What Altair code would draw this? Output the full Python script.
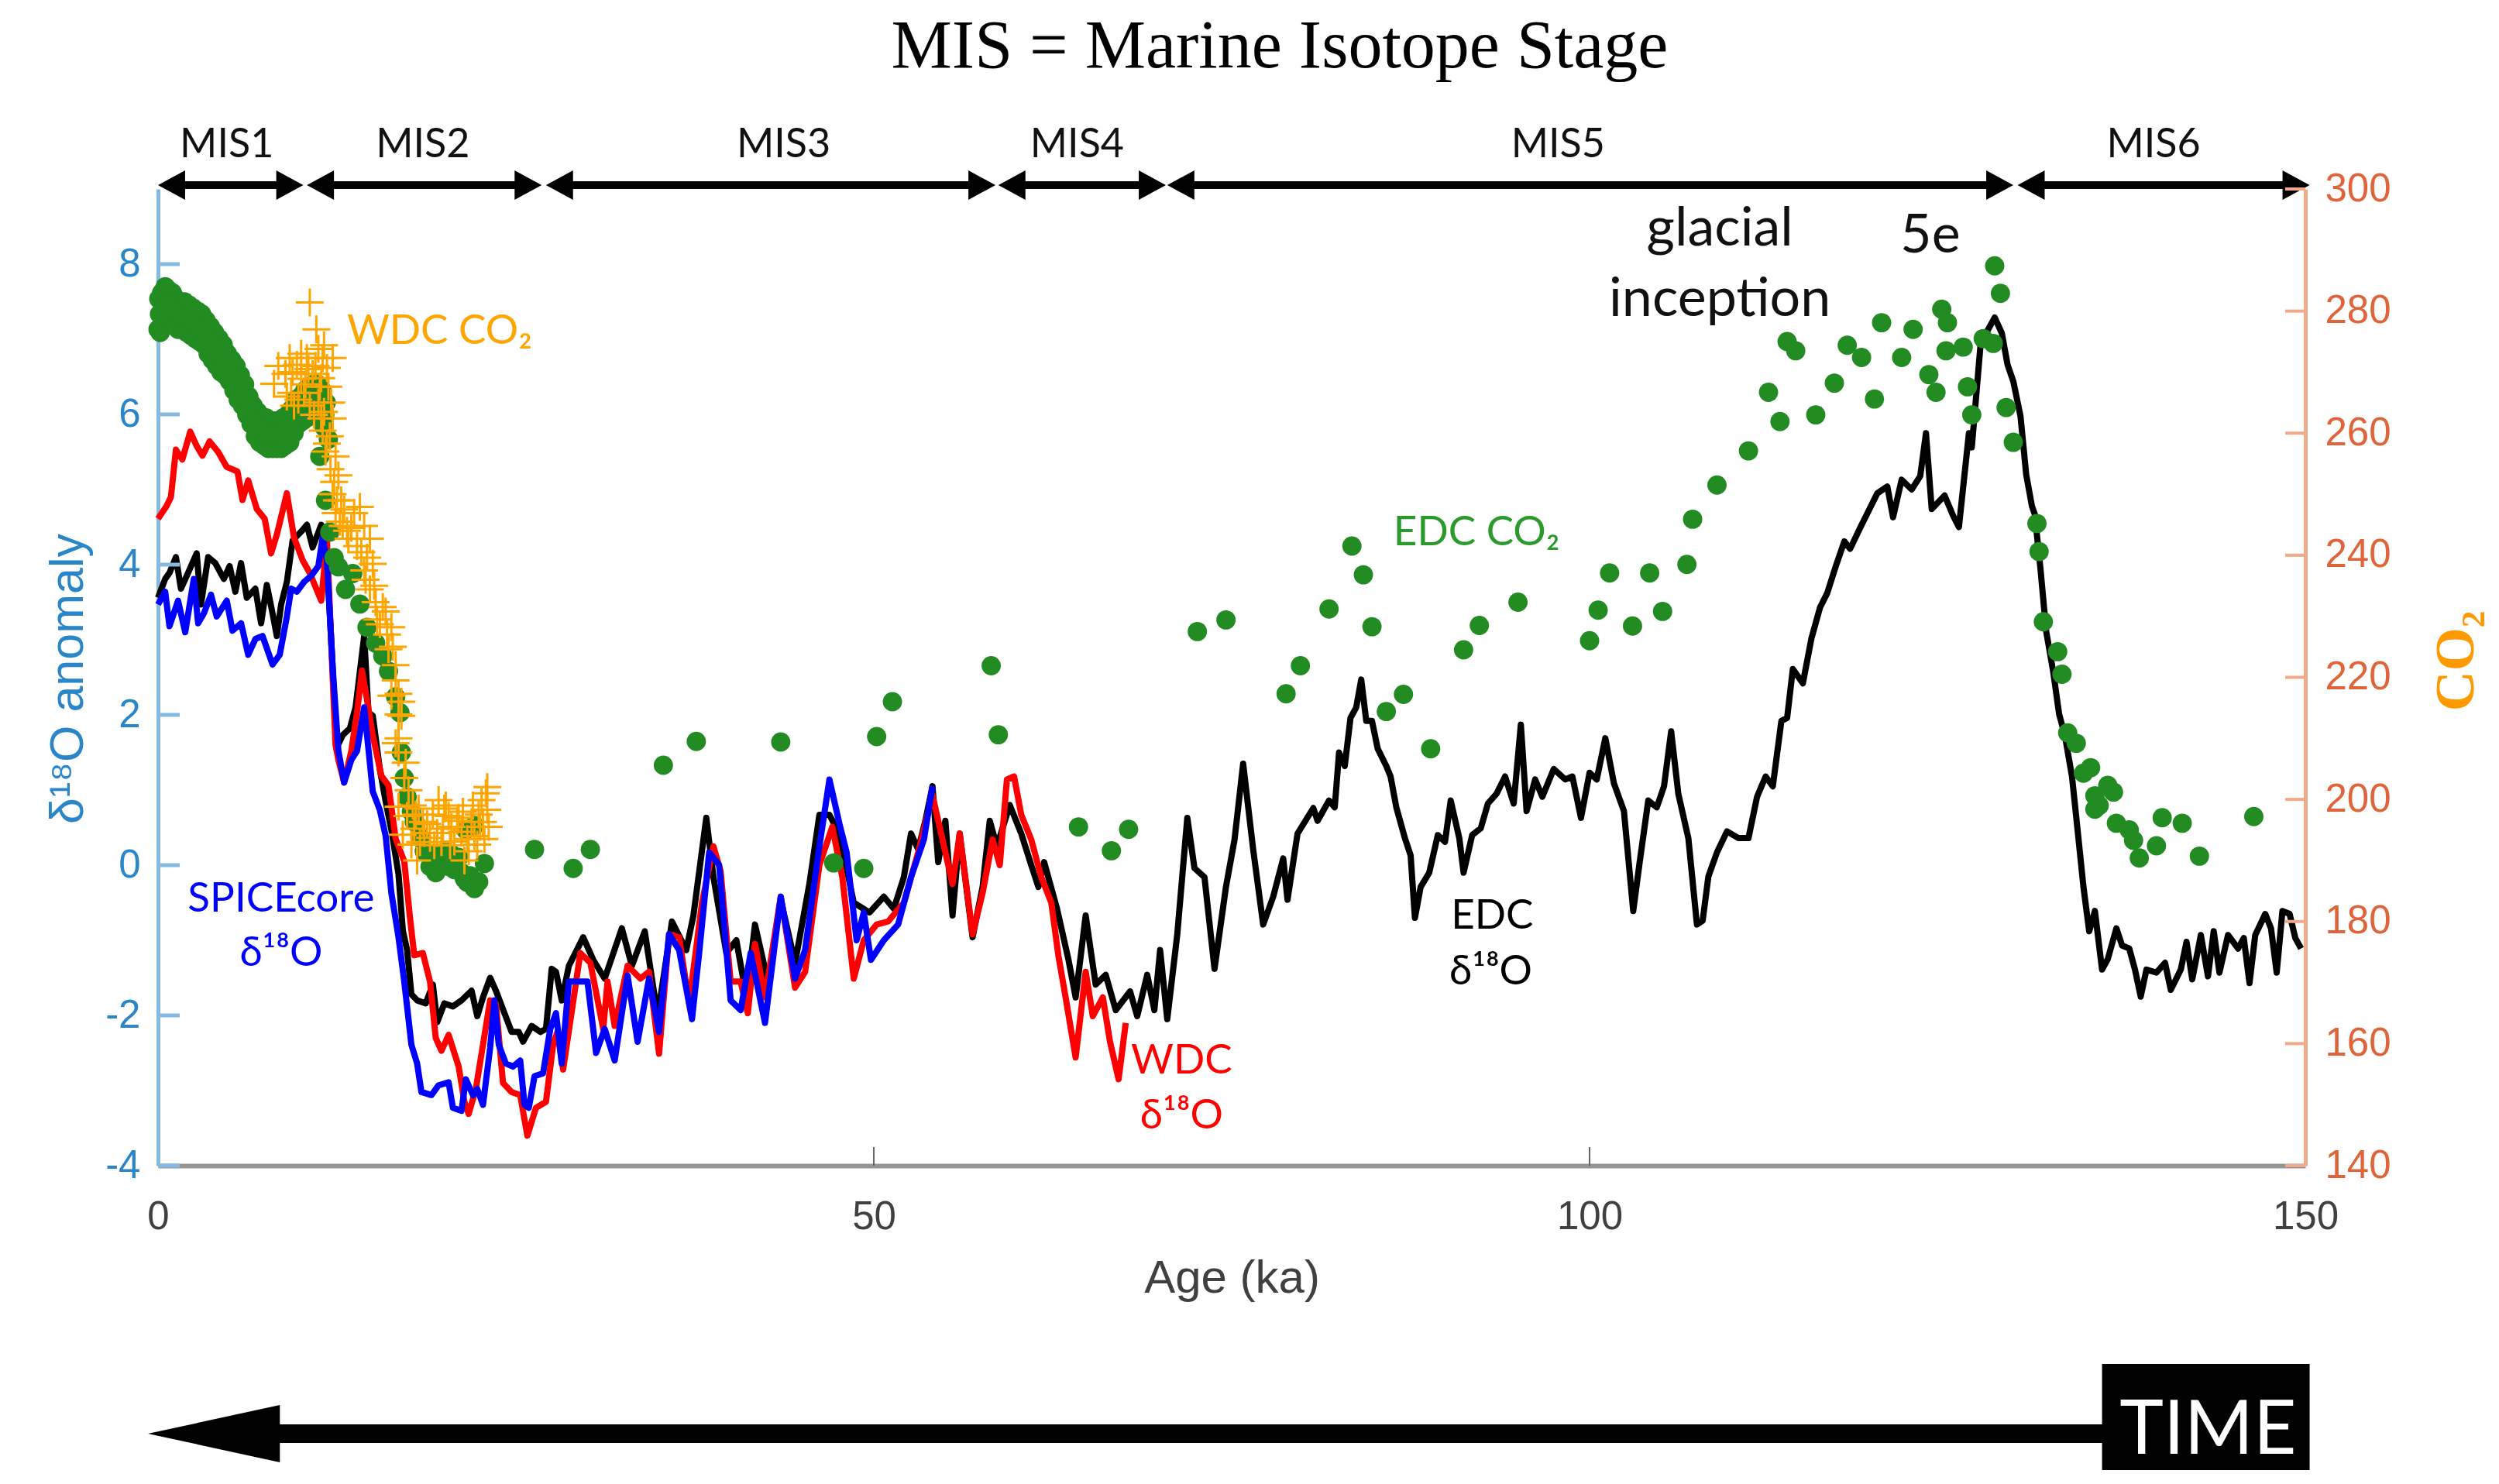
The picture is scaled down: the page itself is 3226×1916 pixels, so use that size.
import altair as alt
import pandas as pd

# ---------------- data ----------------
EDC_ka = [0.0, 0.5, 0.8, 1.25, 1.6, 2.1, 2.7, 3.0, 3.5, 4.0, 4.6, 5.0, 5.4, 5.8, 6.2, 6.8, 7.2, 7.6, 8.0, 8.3,
          8.6, 9.0, 9.4, 10.0, 10.4, 10.8, 11.4, 11.7, 12.2, 12.4,
          12.6, 12.9, 13.4, 13.8, 14.4, 14.7, 15.0, 15.5, 15.9, 16.3, 16.8, 17.1, 17.4, 17.7, 18.1, 18.7, 19.2,
          19.5, 20.0, 20.6, 21.2, 21.9, 22.3, 22.7, 23.2, 23.6, 24.2, 24.7, 25.2, 25.5, 26.1, 26.7, 27.1, 27.5,
          27.8, 28.2,
          28.7, 29.7, 30.4, 31.2, 32.4, 33.1, 34.0, 34.9, 35.9, 36.9, 37.4, 38.3, 38.8, 39.7, 40.4, 41.1, 41.7,
          42.6, 43.5, 44.5, 45.5, 46.2, 46.9, 47.6, 48.6, 49.7, 50.7, 51.4, 52.1, 52.6, 53.1, 53.6, 54.1, 54.5,
          55.0, 55.5, 56.0, 56.9, 57.6, 58.1, 58.6, 59.5, 60.3, 61.0, 61.5, 61.9, 62.8, 63.6, 64.1, 64.8, 65.5,
          66.2, 66.9, 67.9, 68.4, 69.1, 69.6, 70.0, 70.5, 71.2, 71.9, 72.4, 73.1, 73.8, 74.6, 75.2, 75.8, 76.5,
          77.2, 77.9, 78.6, 78.9, 79.6, 80.7,
          81.0, 81.8, 82.2, 82.5, 82.9, 83.3, 83.7, 84.05, 84.4, 84.8, 85.2, 85.8, 86.1, 86.5, 87.1, 87.5, 87.8,
          88.2, 88.8, 89.4, 89.9, 90.3, 90.9, 91.2, 91.8, 92.4, 92.9, 93.5, 94.1, 94.7, 95.2, 95.6, 96.2, 96.7,
          97.5, 98.3, 98.8, 99.4, 100.0, 100.5, 101.1, 101.7, 102.4,
          103.05, 103.5, 104.1, 104.7, 105.2, 105.7, 106.2, 106.9, 107.5, 107.9, 108.3, 108.9, 109.6, 110.4,
          111.1, 111.7, 112.3, 112.8, 113.4, 113.8, 114.2, 114.9, 115.5, 116.1, 116.6, 117.2, 117.8, 118.2,
          118.9, 119.5, 120.1, 120.8, 121.2, 121.8, 122.5, 123.1,
          123.5, 123.9, 124.8, 125.4, 125.8, 126.5, 126.7, 127.3, 127.7, 128.3, 128.8, 129.2, 129.6, 130.1,
          130.5, 130.9,
          131.1, 131.5, 131.9, 132.4, 132.8, 133.2, 133.7, 134.1, 134.5, 134.9, 135.3, 135.8, 136.2, 136.8,
          137.2, 137.7, 138.1, 138.5, 138.9, 139.6, 140.2, 140.6, 141.3, 141.7, 142.1, 142.7, 143.2, 143.6,
          144.0, 144.6, 145.3, 145.7, 146.1, 146.5, 147.2, 147.6, 148.0, 148.4, 148.9, 149.3, 149.7]
EDC_d18O = [3.56, 3.81, 3.89, 4.1, 3.68, 3.89, 4.15, 3.47, 4.1, 4.02, 3.81, 3.98, 3.64, 4.02, 3.56, 3.68, 3.22,
            3.73, 3.35, 3.05, 3.47, 3.77, 4.32, 4.44, 4.53, 4.23, 4.53, 4.4, 2.63, 1.8,
            1.61, 1.73, 1.82, 2.1, 3.05, 2.03, 1.99, 1.27, 0.85, 0.47, -0.12, -0.87, -1.13, -1.72, -1.8, -1.84,
            -1.59, -2.09, -1.84, -1.88, -1.8, -1.67, -2.01, -1.76, -1.5, -1.67, -1.97, -2.22, -2.22, -2.35,
            -2.14, -2.22, -2.18, -1.38, -1.42, -1.8,
            -1.34, -0.96, -1.26, -1.51, -0.84, -1.34, -0.88, -2.01, -0.75, -1.13, -0.67, 0.63, -0.16, -1.17,
            -1.0, -1.76, -0.79, -1.55, -0.46, -1.3, -0.25, 0.67, 0.67, 0.42, -0.5, -0.63, -0.42, -0.58, -0.16,
            0.42, 0.21, 0.59, 1.05, 0.04, 0.59, -0.67, 0.42, -0.96, -0.29, 0.59, 0.25, 0.8, 0.42, 0.0, -0.29,
            0.04, -0.58, -1.26, -1.76, -0.67, -1.59, -1.46, -1.93, -1.68, -2.01, -1.46, -1.93, -1.13, -2.05,
            -0.92, 0.63, -0.04, -0.16, -1.38, -0.29, 0.34, 1.35, 0.21, -0.79, -0.42, 0.09, -0.46, 0.42, 0.76,
            0.59, 0.86, 0.77, 1.5, 1.32, 1.96, 2.1, 2.47, 1.92, 1.92, 1.55, 1.32, 1.18, 0.77, 0.36, 0.13, -0.7,
            -0.29, -0.1, 0.4, 0.31, 0.86, 0.36, -0.1, 0.4, 0.49, 0.82, 0.95, 1.18, 0.82, 1.87, 0.72, 1.14, 0.91,
            1.28, 1.14, 1.18, 0.63, 1.23, 1.14, 1.69, 1.09, 0.72,
            -0.61, 0.04, 0.86, 0.77, 1.05, 1.78, 0.95, 0.36, -0.79, -0.74, -0.15, 0.17, 0.45, 0.36, 0.36, 0.91,
            1.18, 1.05, 1.92, 1.96, 2.61, 2.42, 3.02, 3.43, 3.62, 3.98, 4.31, 4.21, 4.49, 4.72, 4.95, 5.04,
            4.63, 5.13, 5.0, 5.18,
            5.75, 4.74, 4.92, 4.65, 4.5, 5.75, 5.56, 6.9, 7.08, 7.29, 7.08, 6.66, 6.44, 5.98, 5.2, 4.78,
            4.67, 3.94, 3.11, 2.56, 2.01, 1.73, 1.18, 0.45, -0.29, -0.88, -0.61, -1.39, -1.25, -0.84, -1.07,
            -1.11, -1.39, -1.75, -1.39, -1.43, -1.3, -1.66, -1.39, -1.02, -1.52, -0.93, -1.48, -0.88, -1.43,
            -0.93, -1.11, -0.97, -1.57, -0.93, -0.65, -0.84, -1.43, -0.61, -0.65, -0.97, -1.11]

WDC_ka = [0.0, 0.6, 0.9, 1.25, 1.7, 2.25, 2.7, 3.1, 3.6, 4.2, 4.8, 5.55, 5.9, 6.3, 6.9, 7.45, 7.9, 8.3, 9.0,
          9.5, 10.1, 10.6, 11.4, 11.8, 12.4,
          12.6, 13.0, 13.5, 13.9, 14.25, 14.6, 15.0, 15.6, 16.1, 16.6, 17.2, 17.6, 17.9, 18.5, 19.0, 19.4,
          19.8, 20.3, 21.0, 21.4, 21.7, 22.2, 22.7, 23.2, 23.6, 24.1, 24.7, 25.3, 25.8, 26.4, 27.1, 27.6,
          27.9, 28.3,
          29.5, 30.2, 31.1, 31.4, 31.9, 32.8, 33.7, 34.3, 35.0, 35.7, 36.4, 37.1, 38.0, 38.8, 39.3, 40.0,
          40.7, 41.2, 41.7, 42.4, 43.5, 44.5, 45.2, 46.2, 47.1, 47.8, 48.6, 49.3, 50.2, 51.0, 52.1, 53.1,
          54.1, 54.8, 55.5, 56.0, 56.9, 57.6, 58.3, 58.8, 59.3, 59.8, 60.3, 61.0, 61.7, 62.4, 62.9, 63.4,
          64.1, 64.8, 65.3, 66.0, 66.5, 67.1, 67.6]
WDC_d18O = [4.61, 4.78, 4.9, 5.53, 5.4, 5.77, 5.58, 5.45, 5.64, 5.5, 5.3, 5.24, 4.86, 5.12, 4.74, 4.61, 4.15,
            4.4, 4.95, 4.36, 4.06, 3.89, 3.52, 4.32, 1.6,
            1.4, 1.1, 1.52, 2.03, 2.59, 2.2, 1.73, 1.19, 1.06, 0.35, 0.05, -0.7, -1.2, -1.17, -1.55, -2.3,
            -2.47, -2.26, -2.68, -3.15, -3.31, -2.98, -2.39, -1.8, -1.84, -2.9, -3.02, -3.06, -3.6, -3.23,
            -3.15, -2.39, -2.22, -2.72,
            -1.17, -1.3, -2.18, -1.55, -2.14, -1.34, -1.51, -1.42, -2.51, -0.92, -0.96, -1.84, -0.5, 0.25,
            -0.08, -1.55, -1.55, -1.97, -1.05, -1.76, -0.42, -1.63, -1.42, 0.0, 0.51, -0.16, -1.51, -1.0,
            -0.79, -0.75, -0.5, 0.17, 0.93, 0.34, -0.25, 0.42, -0.92, -0.37, 0.34, 0.0, 1.14, 1.18, 0.67,
            0.34, -0.16, -0.5, -1.21, -1.76, -2.56, -1.42, -2.01, -1.76, -2.35, -2.85, -2.1]

SPICE_ka = [0.0, 0.5, 0.8, 1.4, 1.9, 2.5, 2.8, 3.2, 3.7, 4.1, 4.8, 5.2, 5.8, 6.3, 6.8, 7.3, 8.0, 8.5, 9.0,
            9.3, 9.7, 10.2, 10.7, 11.2, 11.5, 11.8, 12.2,
            12.6, 13.0, 13.5, 13.9, 14.4, 14.6, 15.0, 15.5, 15.9, 16.3, 16.8, 17.2, 17.7, 18.1, 18.4, 19.1,
            19.6, 20.3, 20.6, 21.2, 21.5, 22.0, 22.3, 22.7, 23.2, 23.5, 23.8, 24.3, 24.8, 25.3, 25.6, 25.9,
            26.3, 26.9, 27.4, 27.8, 28.2, 28.7,
            29.2, 30.0, 30.6, 31.2, 31.9, 32.8, 33.5, 34.3, 35.0, 35.7, 36.4, 37.3, 37.8, 38.5, 39.2, 40.0,
            40.7, 41.4, 42.4, 43.5, 44.5, 45.2, 46.2, 46.9, 47.6, 48.1, 48.8, 49.3, 49.8, 50.7, 51.7, 52.6,
            53.5, 54.1]
SPICE_d18O = [3.47, 3.64, 3.18, 3.52, 3.1, 3.81, 3.22, 3.35, 3.6, 3.31, 3.52, 3.12, 3.22, 2.8, 3.01, 3.05,
              2.67, 2.8, 3.31, 3.68, 3.64, 3.77, 3.85, 3.98, 4.36, 4.06, 2.63,
              1.52, 1.1, 1.4, 1.52, 2.1, 1.73, 0.98, 0.73, 0.39, -0.37, -0.96, -1.55, -2.39, -2.64, -3.02,
              -3.06, -2.93, -2.89, -3.23, -3.27, -2.85, -3.06, -2.98, -3.19, -2.43, -1.8, -2.39, -2.64, -2.68,
              -2.6, -3.19, -3.23, -2.81, -2.77, -2.18, -1.97, -2.64, -1.55,
              -1.55, -1.55, -2.5, -2.18, -2.6, -1.47, -2.35, -1.51, -2.22, -0.92, -1.13, -2.05, -1.17, 0.17,
              0.0, -1.8, -1.93, -1.17, -2.1, -0.42, -1.51, -1.13, 0.25, 1.14, 0.55, 0.17, -1.0, -0.63, -1.26,
              -1.0, -0.79, -0.16, 0.34, 1.05]

EDC_CO2_ka = [0.0, 0.05, 0.15, 0.25, 0.35, 0.5, 0.6, 0.7, 0.85, 1.0, 1.1, 1.25, 1.4, 1.55, 1.7, 1.85, 2.0,
              2.15, 2.3, 2.45, 2.6, 2.75, 2.9, 3.05, 3.2, 3.35, 3.5, 3.65, 3.8, 3.95, 4.1, 4.25, 4.4, 4.55,
              4.7, 4.85, 5.0, 5.15, 5.3, 5.45, 5.6, 5.75, 5.9, 6.05, 6.2, 6.35, 6.5, 6.65, 6.8, 6.95, 7.1,
              7.25, 7.4, 7.55, 7.7, 7.85, 8.0, 8.15, 8.3, 8.45, 8.6, 8.75, 8.9, 9.05, 9.2, 9.35, 9.5, 9.65,
              9.8, 9.95, 10.1, 10.25, 10.4, 10.55, 10.7, 10.85, 11.0, 11.15, 11.3, 11.45, 11.6, 11.75, 11.9,
              0.1, 0.4, 0.75, 1.1, 1.45, 1.8, 2.2, 2.55, 2.9, 3.25, 3.6, 3.95, 4.3, 4.65, 5.0, 5.35, 5.7,
              6.05, 6.4, 6.75, 7.1, 7.45, 7.8, 8.15, 8.5, 8.85, 9.2, 9.55, 9.9, 10.25, 10.6, 10.95, 11.3,
              11.65,
              11.3, 11.7, 12.0, 12.3, 12.6, 13.1, 13.6, 14.1, 14.6, 15.2, 15.7, 16.1, 16.6, 16.9, 17.0,
              17.2, 17.4, 17.7, 17.9, 18.3, 18.6, 19.0, 19.2, 19.4, 19.7, 19.9, 20.1, 20.3, 20.5, 20.7,
              21.0, 21.2, 21.4, 21.6, 21.8, 22.1, 22.1, 21.5, 22.4, 22.8,
              26.3, 29.0, 30.2, 35.3, 37.6, 43.5, 47.2, 49.3, 50.2, 51.3, 58.2, 58.7, 64.3, 66.6, 67.8,
              72.6, 74.6, 78.8, 79.8, 81.8, 83.4, 84.2, 84.8, 85.8, 87.0, 88.9, 91.2, 92.3, 95.0, 100.0,
              100.6, 101.4, 103.0, 104.2, 105.1, 106.8, 107.2, 108.9, 111.1, 112.5, 113.3, 113.8, 114.4,
              115.8, 117.1, 118.0, 119.0, 119.9, 120.4, 121.8, 122.6, 123.7, 124.2, 124.6, 124.9, 125.0,
              126.1, 126.4, 126.7, 127.5, 128.2, 128.3, 128.7, 129.1, 129.6, 131.25, 131.4, 131.7, 132.7,
              133.0, 133.4, 134.0, 134.5, 135.0, 135.3, 135.6, 135.3, 136.2, 136.6, 136.8, 137.7, 138.0,
              138.4, 139.6, 140.0, 141.4, 142.6, 146.4]
EDC_CO2_ppm = [277, 282, 276.5, 283, 278, 284, 279, 283.5, 278.5, 283, 278, 282, 277, 281.5, 277, 281.5,
               276.5, 281, 276, 280.5, 275.5, 280, 275, 279.5, 274.5, 278.5, 273, 277.5, 272, 276.5, 271,
               275.5, 270, 274.5, 269.5, 273, 268.5, 272, 267, 271, 265.5, 269.5, 264.5, 268, 263, 266,
               261.5, 264.5, 259.5, 263.5, 258.5, 262.5, 258, 262.5, 257.5, 262, 257.5, 262, 257.5, 262,
               257.5, 262.5, 258, 263, 258.5, 264, 260, 265.5, 261.5, 266, 262, 267, 262.5, 267.5, 263, 268,
               263, 268, 262.5, 267, 261, 265, 259,
               279.5, 280.5, 281, 280, 279.5, 279, 278.5, 278, 277, 276.5, 275, 274, 272.5, 271.5, 270, 269,
               267.5, 265.5, 264, 262, 260.5, 260, 259.5, 259.5, 259.5, 260, 261, 262.5, 264, 264.5, 265,
               265.5, 265, 263,
               256.2, 249, 243.8, 239.6, 238.1, 234.4, 237, 232, 228.2, 225.6, 223.5, 221, 216.8, 214.2,
               207.7, 203.5, 200.4, 198, 196.3, 193.7, 191.5, 189.0, 191, 188.0, 190.5, 189.5, 191.5, 189.0,
               191, 188.5, 190.5, 188.0, 187, 186.4, 187.5, 185.4, 195.7, 195, 186.5, 189.5,
               191.8, 188.7, 191.8, 205.6, 209.5, 209.4, 189.6, 188.7, 210.3, 216.0, 221.9, 210.6, 195.5,
               191.6, 195.1, 227.5, 229.4, 217.3, 221.9, 231.2, 241.5, 236.8, 228.3, 214.4, 217.2, 208.3,
               224.5, 228.5, 232.3, 226.0, 231.0, 237.1, 228.4, 237.1, 230.8, 238.5, 245.9, 251.5, 257.1,
               266.7, 261.9, 275.0, 273.5, 263.0, 268.2, 274.4, 272.4, 265.6, 278.1, 272.4, 277.0, 269.6,
               266.7, 280.3, 273.5, 278.1, 274.1, 267.6, 263.0, 275.5, 274.7, 287.4, 282.9, 264.2, 258.5,
               245.2, 240.6, 229.1, 224.2, 220.5, 210.9, 209.2, 204.3, 205.2, 200.6, 199.0, 198.4, 202.3,
               201.2, 196.1, 195.0, 193.3, 190.4, 192.4, 197.0, 196.1, 190.7, 197.2]

WDC_CO2_ka = [8.1, 8.4, 8.9, 9.2, 9.3, 9.5, 9.7, 10.0, 10.2, 10.4, 10.6, 10.6, 10.8, 11.06, 11.2, 11.3, 11.4,
              11.5, 11.6, 11.8, 11.9, 12.2, 11.5, 11.8, 12.2, 12.05, 12.4, 12.2, 12.6, 12.4, 12.8, 12.9, 13.3,
              13.7, 14.1, 14.4, 14.6, 14.8, 15.0, 14.4, 14.8, 15.2, 15.9, 15.5, 16.3, 16.1, 16.6, 16.8, 17.0,
              16.8, 16.3, 16.8, 16.6, 16.8, 17.2, 16.8, 17.4, 17.1, 17.7, 18.1, 17.9, 18.5, 19.0, 19.6, 19.9,
              20.3, 20.7, 21.2, 21.4, 21.9, 22.3, 22.6, 22.7, 23.0, 18.3, 18.8, 19.3, 20.0, 20.5, 21.0, 21.6,
              22.0, 22.4, 22.9, 23.1,
              9.0, 9.4, 9.8, 10.0, 10.3, 10.5, 10.9, 11.0, 11.2, 11.4, 11.6, 11.7, 12.0, 12.1, 12.3, 12.5,
              12.7, 13.0, 13.2, 13.5, 13.9, 14.2, 14.5, 15.1, 15.3, 15.7, 16.0, 16.4, 16.6, 17.0, 17.3, 17.5,
              17.8, 18.0, 18.2, 18.6, 19.2, 19.5, 19.8, 20.1, 20.4, 20.9, 21.3, 21.7, 22.1, 22.5, 22.8, 23.0]
WDC_CO2_ppm = [268.1, 271, 269.7, 272.3, 266.6, 264.5, 271.2, 268.9, 266.6, 272.3, 264.5, 281.4, 269.7, 277,
               273.8, 267.6, 262.4, 272.3, 274.4, 270.7, 267.6, 272.3, 260.4, 258.3, 262.4, 254.1, 256.2, 250,
               253.1, 246.9, 249, 244.8, 242.7, 246.9, 247.9, 244.8, 239.6, 242.7, 238.6, 237.5, 234.4, 232.3,
               230.8, 228.7, 228.2, 224.6, 222, 217.3, 213.7, 210, 217, 213.9, 209.2, 207.7, 203.5, 198.8,
               197.3, 194.2, 192.6, 190, 195.2, 196.3, 193.7, 199.9, 195.2, 197.3, 193.1, 194.7, 190, 196.3,
               192.6, 199.9, 196.3, 198.3, 193, 196, 192.5, 198.5, 195.5, 197, 193.5, 199, 197.5, 201, 195.5,
               266, 270, 265.5, 273, 268, 270.5, 263, 271, 265, 269, 263.5, 257, 259.5, 265, 252, 249,
               245.5, 247.5, 244, 244.5, 241.5, 240.5, 236, 235, 229.5, 231.5, 227, 225, 219.5, 216, 206,
               201.5, 199, 197.5, 198.5, 194.5, 197.5, 194.5, 193, 199, 192.5, 196.5, 198, 191.5, 194, 195.5,
               193.5, 202]

MIS_names = ["MIS1", "MIS2", "MIS3", "MIS4", "MIS5", "MIS6"]
MIS_start = [0.0, 10.4, 27.1, 58.7, 70.5, 129.9]
MIS_end = [10.15, 26.8, 58.5, 70.4, 129.6, 150.3]
MIS_label_ka = [4.8, 18.5, 43.7, 64.2, 97.8, 139.4]

x_ticks = [0, 50, 100, 150]
d18O_ticks = [-4, -2, 0, 2, 4, 6, 8]
CO2_ticks = [140, 160, 180, 200, 220, 240, 260, 280, 300]

# annotations (text, age, value on the left axis)
ann_text = ["SPICEcore", "δ¹⁸O", "WDC", "δ¹⁸O", "EDC", "δ¹⁸O", "WDC CO₂", "EDC CO₂"]
ann_ka = [8.6, 8.6, 71.5, 71.5, 93.2, 93.1, 13.2, 86.3]
ann_val = [-0.62, -1.34, -2.77, -3.51, -0.85, -1.59, 6.94, 4.26]
big_text = ["glacial", "inception", "5e"]
big_ka = [109.1, 109.1, 123.8]
big_val = [8.25, 7.31, 8.15]

# ---------------- layout ----------------
W, H = 2772, 1261
FS = "Liberation Sans"
FL = "Lato"

xs = alt.Scale(domain=[0, 150], nice=False, zero=False)
yls = alt.Scale(domain=[-4, 9], nice=False, zero=False)
yrs = alt.Scale(domain=[140, 300], nice=False, zero=False)

x_axis = alt.Axis(values=x_ticks, title="Age (ka)", labelFont=FS, labelFontSize=51, labelColor="#404040",
                  titleFont=FS, titleFontSize=60, titleFontWeight="normal", titleColor="#404040",
                  domainColor="#959595", domainWidth=6, ticks=False, grid=False,
                  labelPadding=81, labelBaseline="alphabetic", labelFlush=False, labelOverlap=False,
                  titleY=163, titleBaseline="alphabetic")
yl_axis = alt.Axis(orient="left", values=d18O_ticks, title="δ¹⁸O anomaly", labelFont=FS, labelFontSize=51,
                   labelColor="#2a86c8", labelExpr="'' + datum.value", titleFont=FS, titleFontSize=61,
                   titleFontWeight="normal", titleColor="#2a86c8", titleAngle=270, titleX=-116, titleY=632,
                   titleAlign="center", titleBaseline="middle", domainColor="#86b9e0", domainWidth=5,
                   ticks=False, labelPadding=23, grid=False, labelOverlap=False)
yr_axis = alt.Axis(orient="right", values=CO2_ticks, title="CO₂", labelFont=FS, labelFontSize=51,
                   labelColor="#e0643a", titleFont="Liberation Serif", titleFontSize=72, titleFontWeight="bold",
                   titleColor="#ff9900", titleAngle=270, titleX=194, titleY=609, titleAlign="center",
                   titleBaseline="middle", domainColor="#f0aa8a", domainWidth=5, ticks=False,
                   labelPadding=25, grid=False, labelOverlap=False)


def X(f):
    # every layer shares the same x scale and the same x axis definition
    return alt.X(f, type="quantitative", scale=xs, axis=x_axis)


def YL(f, axis=None):
    return alt.Y(f, type="quantitative", scale=yls, axis=axis)


def YR(f, axis=None):
    return alt.Y(f, type="quantitative", scale=yrs, axis=axis)


def series(ka, vals):
    return pd.DataFrame({"ka": ka, "v": vals, "i": list(range(len(ka)))})


black = alt.Chart(series(EDC_ka, EDC_d18O)).mark_line(color="black", strokeWidth=8, strokeJoin="round").encode(
    x=X("ka"), y=YL("v", yl_axis), order="i:Q")
red = alt.Chart(series(WDC_ka, WDC_d18O)).mark_line(color="#ff0000", strokeWidth=8, strokeJoin="round").encode(
    x=X("ka"), y=YL("v"), order="i:Q")
blue = alt.Chart(series(SPICE_ka, SPICE_d18O)).mark_line(color="#0000ff", strokeWidth=8, strokeJoin="round").encode(
    x=X("ka"), y=YL("v"), order="i:Q")

left_ticks = alt.Chart(pd.DataFrame({"v": d18O_ticks})).mark_rule(color="#86b9e0", strokeWidth=5).encode(
    y=YL("v"), x=alt.value(0), x2=alt.value(28))
bottom_ticks = alt.Chart(pd.DataFrame({"v": [50, 100]})).mark_rule(color="#666666", strokeWidth=2).encode(
    x=X("v"), y=alt.value(H), y2=alt.value(H - 24))

ann_colors = ["#0000ff", "#0000ff", "#ff0000", "#ff0000", "#000000", "#000000", "#ffa500", "#2a9a2a"]
ann_align = ["center"] * 6 + ["left", "left"]
ann_layers = []
for t, k, v, c, a in zip(ann_text, ann_ka, ann_val, ann_colors, ann_align):
    ann_layers.append(
        alt.Chart(pd.DataFrame({"ka": [k], "v": [v], "t": [t]})).mark_text(
            font=FL, fontSize=53, color=c, align=a, baseline="alphabetic").encode(
            x=X("ka"), y=YL("v"), text="t:N"))

big = alt.Chart(pd.DataFrame({"ka": big_ka, "v": big_val, "t": big_text})).mark_text(
    font=FL, fontSize=70, color="#111111", align="center", baseline="alphabetic").encode(
    x=X("ka"), y=YL("v"), text="t:N")

# MIS arrows
mis = pd.DataFrame({"s": MIS_start, "e": MIS_end, "n": MIS_names, "c": MIS_label_ka})
mis["s_in"] = mis["s"] + 1.0
mis["e_in"] = mis["e"] - 1.0
mis_line = alt.Chart(mis).mark_rule(color="black", strokeWidth=10).encode(
    x=X("s_in"), x2=alt.X2("e_in"), y=alt.value(-5))
head_r = alt.Chart(mis).mark_point(shape="M 0 0 L -1.84 -1 L -1.84 1 Z", filled=True, color="black",
                                   opacity=1, size=1444, strokeWidth=0).encode(x=X("e"), y=alt.value(-5))
head_l = alt.Chart(mis).mark_point(shape="M 0 0 L 1.84 -1 L 1.84 1 Z", filled=True, color="black",
                                   opacity=1, size=1444, strokeWidth=0).encode(x=X("s"), y=alt.value(-5))
mis_text = alt.Chart(mis).mark_text(font=FL, fontSize=52, color="#111111", align="center",
                                    baseline="alphabetic").encode(x=X("c"), y=alt.value(-41), text="n:N")

title = alt.Chart(pd.DataFrame({"t": ["MIS = Marine Isotope Stage"]})).mark_text(
    font="Liberation Serif", fontSize=88, color="black", align="center", baseline="alphabetic").encode(
    x=alt.value(1448), y=alt.value(-157), text="t:N")

# TIME arrow at the bottom
time_arrow = pd.DataFrame({"tip": [-0.7], "a": [8.0], "b": [136.0], "r1": [135.8], "r2": [150.3],
                           "tc": [143.2], "t": ["TIME"]})
shaft = alt.Chart(time_arrow).mark_rule(color="black", strokeWidth=24).encode(
    x=X("a"), x2=alt.X2("b"), y=alt.value(1607))
head_t = alt.Chart(time_arrow).mark_point(shape="M 0 0 L 4.6 -1 L 4.6 1 Z", filled=True, color="black",
                                          opacity=1, size=5476, strokeWidth=0).encode(x=X("tip"), y=alt.value(1607))
box = alt.Chart(time_arrow).mark_rect(color="black").encode(
    x=X("r1"), x2=alt.X2("r2"), y=alt.value(1517), y2=alt.value(1700))
time_txt = alt.Chart(time_arrow).mark_text(font=FL, fontSize=96, color="white", align="center",
                                           baseline="alphabetic").encode(x=X("tc"), y=alt.value(1633), text="t:N")

# right axis: CO2
green = alt.Chart(pd.DataFrame({"ka": EDC_CO2_ka, "v": EDC_CO2_ppm})).mark_circle(
    color="#228b22", opacity=1, size=620).encode(x=X("ka"), y=YR("v", yr_axis))
orange = alt.Chart(pd.DataFrame({"ka": WDC_CO2_ka, "v": WDC_CO2_ppm})).mark_point(
    shape="M -1 0 L 1 0 M 0 -1 L 0 1", filled=False, color="#ffa500", opacity=1, size=1296,
    strokeWidth=3).encode(x=X("ka"), y=YR("v"))
right_ticks = alt.Chart(pd.DataFrame({"v": CO2_ticks})).mark_rule(color="#f0aa8a", strokeWidth=4).encode(
    y=YR("v"), x=alt.value(W - 26), x2=alt.value(W))

chart = alt.layer(
    black, red, blue, left_ticks, bottom_ticks, *ann_layers, big, mis_line, head_r, head_l,
    mis_text, title, shaft, head_t, box, time_txt, green, orange, right_ticks
).resolve_scale(y="independent").properties(
    width=W, height=H,
    padding={"left": 196, "top": 236, "right": 242, "bottom": 393},
    autosize=alt.AutoSizeParams(type="none"),
).configure_view(strokeWidth=0)

chart.save("out.html", embed_options={"renderer": "svg", "actions": False})
